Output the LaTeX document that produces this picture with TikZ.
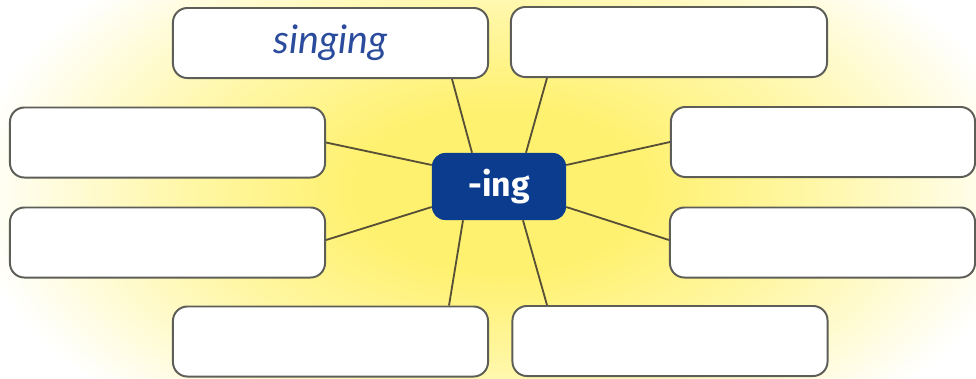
\documentclass[tikz,border=0pt]{standalone}
\usepackage{fontspec}
\usepackage{tikz}
\usepackage{xcolor}
\usetikzlibrary{
    calc,
    positioning
}
\setsansfont{Fira Sans}
\newfontfamily\penfont{Lato}
\definecolor{hubblue}{HTML}{0B3C8E}
\definecolor{spokeline}{HTML}{574F36}
\definecolor{boxline}{HTML}{5E5E58}
\definecolor{penblue}{HTML}{2B4C9C}
\definecolor{glowA}{HTML}{FFF170}
\definecolor{glowB}{HTML}{FFF7A8}
\pgfdeclareradialshading{glow}{\pgfpointorigin}{color(0bp)=(glowA); color(7bp)=(glowA); color(15bp)=(glowB); color(25bp)=(white); color(50bp)=(white)}

\begin{document}
\begin{tikzpicture}[x=0.025cm, y=-0.025cm,
                        wordbox/.style={draw=boxline, line width=1.4pt, fill=white, rounded corners=0.36cm,
                            minimum width=7.875cm, minimum height=1.75cm, inner sep=0pt},
                        hubbox/.style={fill=hubblue, rounded corners=0.33cm, minimum width=3.35cm,
                            minimum height=1.675cm, text=white, font=\sffamily\bfseries\fontsize{24}{28}\selectfont},
                        spoke/.style={draw=spokeline, line width=1.3pt}]
                        \useasboundingbox (0, 0) rectangle (976, 378);
                        \begin{scope}
                            \clip (0, 0) rectangle (976, 378);
                            \fill[white] (0, 0) rectangle (976, 378);
                            \shade[shading=glow] (-30, -110) rectangle (1030, 490);
                        \end{scope}

                        \node[wordbox, text=penblue, font=\penfont\itshape\fontsize{28}{32}\selectfont] (tl) at (330.5, 43) {singing};
                        \node[wordbox, minimum width=7.9cm] (tr) at (669, 42) {};
                        \node[wordbox] (lu) at (167.5, 142.5) {};
                        \node[wordbox] (ll) at (167.5, 242.5) {};
                        \node[wordbox, minimum width=7.6cm] (ru) at (823, 142) {};
                        \node[wordbox, minimum width=7.625cm] (rl) at (822.5, 242.5) {};
                        \node[wordbox] (bl) at (330.5, 341.5) {};
                        \node[wordbox] (br) at (670, 341) {};

                        \node[hubbox] (ing) at (499, 186.5) {-ing};

                        \draw[spoke]
                        ($(ing.north)+(-27, 0)$) -- ($(tl.south)+(121.5, 0)$)
                        ($(ing.north)+(27, 0)$) -- ($(tr.south)+(-122, 0)$)
                        ($(ing.west)+(0, -21.5)$) -- (lu.east)
                        ($(ing.west)+(0, 20.5)$) -- ($(ll.east)+(0, -2.5)$)
                        ($(ing.east)+(0, -21.5)$) -- (ru.west)
                        ($(ing.east)+(0, 20.5)$) -- ($(rl.west)+(0, -2.5)$)
                        ($(ing.south)+(-36, 0)$) -- ($(bl.north)+(118.5, 0)$)
                        ($(ing.south)+(24, 0)$) -- ($(br.north)+(-123, 0)$);
                    \end{tikzpicture}
\end{document}
